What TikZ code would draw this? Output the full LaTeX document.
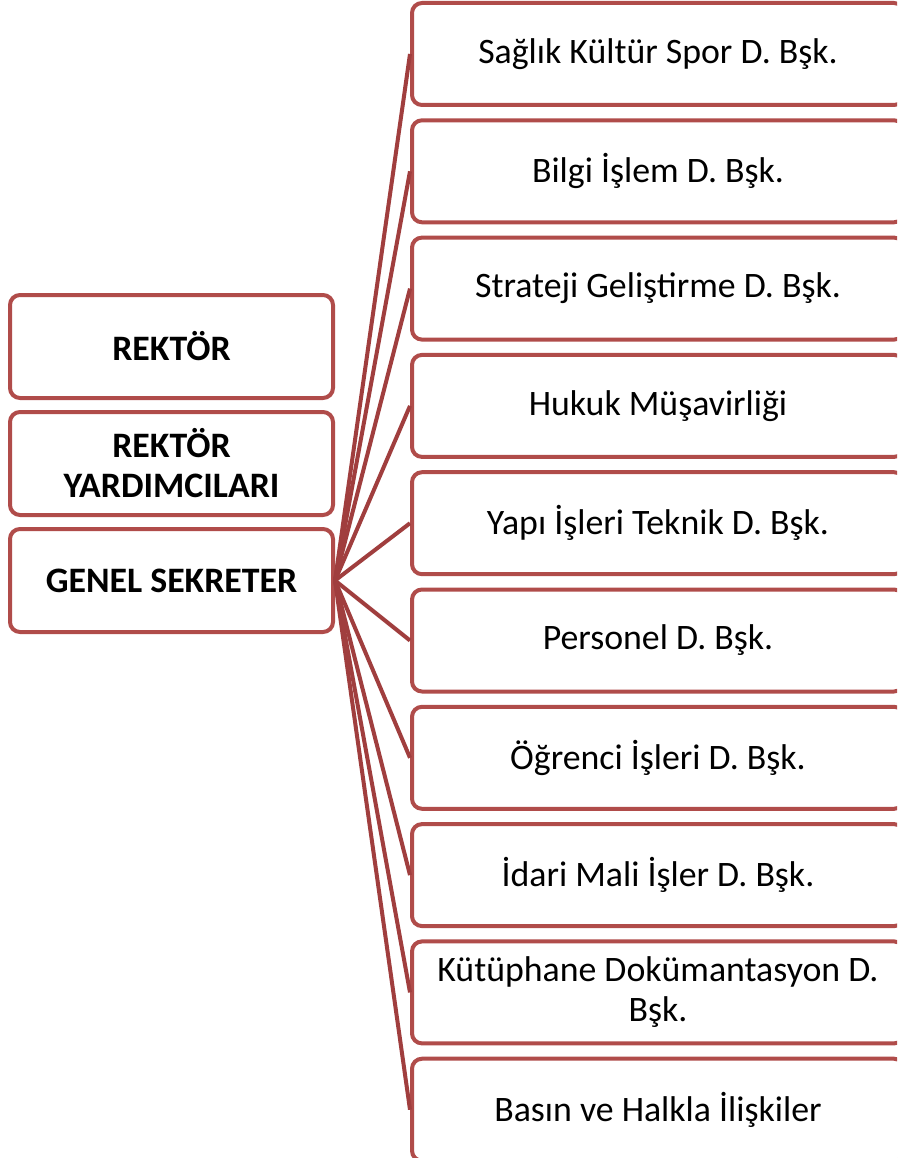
\documentclass[tikz,border=0pt]{standalone}
\usepackage{fontspec}
\setmainfont{Carlito}
\definecolor{bord}{RGB}{176,76,74}
\definecolor{conn}{RGB}{160,62,62}
\begin{document}
\begin{tikzpicture}[x=1pt,y=-1pt,
  box/.style={draw=bord, line width=4pt, rounded corners=10pt, fill=white,
    inner sep=0pt, align=center, font=\fontsize{35.8}{40}\selectfont},
  leftbox/.style={box, minimum width=323pt, minimum height=103pt, font=\bfseries\fontsize{35.8}{40}\selectfont},
  rightbox/.style={box, minimum width=492pt, minimum height=102pt},
  link/.style={draw=conn, line width=4pt}]
\useasboundingbox (0,0) rectangle (897,1158);
\clip (0,0) rectangle (897,1158);
\fill[white] (0,0) rectangle (897,1158);
\node[leftbox] (rek) at (171.5,346.5) {REKTÖR};
\node[leftbox] (ryd) at (171.5,463.5) {REKTÖR\\YARDIMCILARI};
\node[leftbox] (gs) at (171.5,580.5) {GENEL SEKRETER};
\foreach \i/\t in {0/{Sağlık Kültür Spor D. Bşk.},1/{Bilgi İşlem D. Bşk.},2/{Strateji Geliştirme D. Bşk.},3/{Hukuk Müşavirliği},4/{Yapı İşleri Teknik D. Bşk.},5/{Personel D. Bşk.},6/{Öğrenci İşleri D. Bşk.},7/{İdari Mali İşler D. Bşk.},8/{Kütüphane Dokümantasyon D.\\Bşk.},9/{Basın ve Halkla İlişkiler}}{
  \node[rightbox] (r\i) at (658,{54+117.3*\i}) {\t};
}
\foreach \i in {0,...,9}{
  \draw[link] (gs.east) -- (r\i.west);
}
\end{tikzpicture}
\end{document}
